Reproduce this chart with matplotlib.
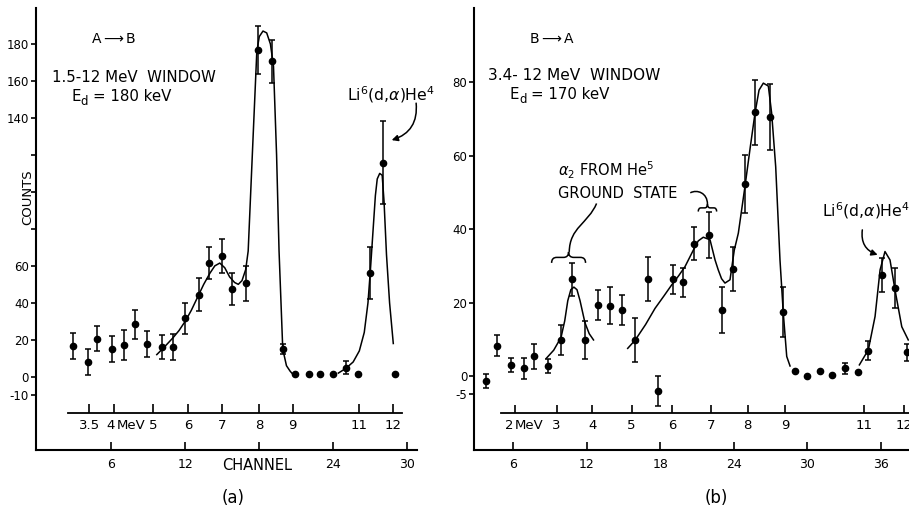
import numpy as np
import matplotlib
matplotlib.use('Agg')
import matplotlib.pyplot as plt
from matplotlib.path import Path
from matplotlib.patches import PathPatch

plt.rcParams['font.family'] = ['DejaVu Sans']
plt.rcParams['mathtext.fontset'] = 'dejavusans'

# ---------------- panel (a) data: A -> B ----------------
ch_a = [2.9, 4.1, 4.85, 6.05, 7.05, 7.95, 8.9, 10.1, 11.05, 12.0, 13.1, 13.95, 14.95,
        15.75, 16.9, 17.92, 19.0, 19.9, 20.9, 22.05, 22.95, 23.95, 25.0, 26.0, 26.95, 28.0, 29.0]
counts_a = [16.8, 7.8, 20.7, 14.8, 17.1, 28.3, 17.7, 16.2, 16.2, 31.7, 44.5, 61.6, 65.4,
            47.4, 50.5, 176.6, 170.6, 15.0, 1.3, 1.3, 1.3, 1.3, 5.0, 1.3, 56.2, 115.7, 1.3]
err_a = [7, 7, 6.5, 7, 8, 8, 7, 6.5, 7, 8.4, 9, 8.5, 9,
         8.5, 9.5, 13, 11.5, 2.5, 0, 0, 0, 0, 3.5, 0, 14, 22.5, 0]

# hand-drawn fit curves (a)
fit_a1_x = [9.7, 10.3, 11.0, 11.5, 12.0, 12.5, 13.0, 13.5, 14.0, 14.4, 14.8, 15.2, 15.6, 16.0,
            16.3, 16.6, 16.9, 17.1, 17.5, 17.8, 18.0, 18.3, 18.6, 18.9, 19.15, 19.4, 19.6, 19.9,
            20.2, 20.5, 20.7]
fit_a1_y = [12, 16, 21, 25, 30, 36, 43, 50, 56, 60, 61.5, 59, 54, 51,
            50, 52, 58, 68, 130, 176, 184, 187, 186, 180, 168, 120, 68, 15,
            6, 3, 1.5]
fit_a2_x = [24.4, 25.0, 25.6, 26.1, 26.5, 26.8, 27.0, 27.2, 27.4, 27.55, 27.75, 27.95, 28.1,
            28.3, 28.55, 28.85]
fit_a2_y = [2, 4.5, 8, 14, 24, 40, 58, 78, 98, 107, 110, 109, 95, 66, 40, 18]

# energy scale (a)
e_pos_a = [4.23, 6.26, 9.37, 12.25, 14.96, 18.0, 20.7, 26.1, 28.8]
e_lab_a = ['3.5', '4', '5', '6', '7', '8', '9', '11', '12']

# ---------------- panel (b) data: B -> A ----------------
ch_b = [3.75, 4.67, 5.8, 6.9, 7.7, 8.86, 9.9, 10.77, 11.88, 12.94, 13.92, 14.9, 15.96, 16.97,
        17.84, 19.0, 19.85, 20.78, 21.97, 23.0, 23.96, 24.9, 25.7, 26.96, 28.04, 29.0, 30.0,
        31.04, 32.0, 33.08, 34.17, 34.98, 36.07, 37.16, 38.1]
counts_b = [-1.4, 8.2, 3.0, 2.1, 5.3, 2.7, 9.8, 26.3, 9.8, 19.3, 19.1, 18.0, 9.8, 26.3,
            -4.1, 26.3, 25.5, 36.0, 38.4, 18.0, 29.2, 52.3, 71.8, 70.7, 17.4, 1.2, 0.1,
            1.3, 0.2, 2.1, 1.1, 6.9, 27.5, 23.9, 6.4]
err_b = [2, 2.9, 2, 2.9, 3.3, 1.9, 4.2, 4.4, 5.2, 4, 5, 4, 6, 6,
         4, 4, 4, 4.5, 6.4, 6.3, 6, 8, 8.8, 9, 6.7, 0, 0,
         0, 0, 1.5, 0, 2.5, 4.5, 5.5, 2.3]

fit_b1_x = [8.7, 9.3, 9.9, 10.2, 10.45, 10.7, 10.95, 11.2, 11.45, 11.85, 12.2, 12.55]
fit_b1_y = [4.8, 7, 10.5, 15, 20.5, 23.5, 24.2, 23.5, 20.5, 14.5, 11.5, 9.8]
fit_b2_x = [15.34, 15.96, 16.8, 17.57, 18.3, 18.93, 19.5, 20.02, 20.7, 21.1, 21.51, 22.06,
            22.47, 22.73, 23.0, 23.28, 23.69, 24.04, 24.37, 24.91, 25.35, 25.73, 26.06, 26.41,
            26.82, 27.09, 27.42, 27.77, 28.04, 28.32, 28.59]
fit_b2_y = [7.5, 9.8, 14.0, 18.4, 21.8, 24.8, 27.3, 29.8, 34.3, 36.8, 37.8, 37.1,
            31.6, 28.9, 26.5, 25.3, 26.2, 34.3, 38.9, 51.6, 62.5, 71.6, 77.9, 79.8,
            79.0, 71.6, 57.0, 31.6, 17.1, 5.3, 2.7]
fit_b3_x = [34.25, 34.98, 35.53, 35.94, 36.34, 36.75, 37.16, 37.71, 38.24]
fit_b3_y = [3.0, 7.1, 16.2, 28.9, 33.9, 31.6, 23.4, 13.4, 9.8]

e_pos_b = [6.14, 9.54, 12.45, 15.66, 18.98, 22.14, 25.13, 28.18, 34.6, 37.9]
e_lab_b = ['2', '3', '4', '5', '6', '7', '8', '9', '11', '12']

# ---------------- figure ----------------
W, H = 909, 513
fig = plt.figure(figsize=(W / 100, H / 100), dpi=100)
axa = fig.add_axes([36 / W, 1 - 450 / H, (417 - 36) / W, (450 - 8.3) / H])
axb = fig.add_axes([474.3 / W, 1 - 450 / H, (W - 474.3) / W, (450 - 8.3) / H])

LW = 1.1


def style(ax):
    for s in ['top', 'right']:
        ax.spines[s].set_visible(False)
    for s in ['left', 'bottom']:
        ax.spines[s].set_linewidth(1.5)
    ax.tick_params(axis='y', direction='out', length=3.5, width=1.2, pad=1.5, labelsize=8.5)
    ax.tick_params(axis='x', direction='in', length=6, width=1.2, pad=5.5, labelsize=9)


def draw_points(ax, x, y, e):
    x = np.asarray(x); y = np.asarray(y); e = np.asarray(e, dtype=float)
    m = e > 0
    ax.errorbar(x[m], y[m], yerr=e[m], fmt='none', ecolor='black', elinewidth=LW,
                capsize=2.4, capthick=LW)
    ax.plot(x, y, 'o', color='black', ms=4.5)


def energy_axis(ax, yline, x0, x1, th, ylab, pos, labs, mev_index, num_off, mev_off):
    ax.plot([x0, x1], [yline, yline], color='black', lw=1.3, clip_on=False)
    ax.vlines(pos, yline, yline + th, color='black', lw=1.2)
    for i, (p, l) in enumerate(zip(pos, labs)):
        if i == mev_index:
            ax.annotate(l, xy=(p, ylab), xytext=(num_off, 0), textcoords='offset points',
                        ha='center', va='center', fontsize=9.5)
        else:
            ax.text(p, ylab, l, ha='center', va='center', fontsize=9.5)
    p = pos[mev_index]
    ax.annotate('MeV', xy=(p, ylab), xytext=(mev_off, 0), textcoords='offset points',
                ha='left', va='center', fontsize=9.5)


def brace(ax, x0, x1, y, h):
    xm = 0.5 * (x0 + x1)
    w = x1 - x0
    verts = [(x0, y), (x0, y + h / 2), (x0 + 0.15 * w, y + h / 2),
             (xm - 0.15 * w, y + h / 2), (xm, y + h / 2), (xm, y + h),
             (xm, y + h), (xm, y + h / 2), (xm + 0.15 * w, y + h / 2),
             (x1 - 0.15 * w, y + h / 2), (x1, y + h / 2), (x1, y)]
    codes = [Path.MOVETO, Path.CURVE3, Path.CURVE3, Path.LINETO, Path.CURVE3, Path.CURVE3,
             Path.MOVETO, Path.CURVE3, Path.CURVE3, Path.LINETO, Path.CURVE3, Path.CURVE3]
    ax.add_patch(PathPatch(Path(verts, codes), fc='none', ec='black', lw=LW, clip_on=False))


def bezier(ax, pts):
    codes = [Path.MOVETO, Path.CURVE4, Path.CURVE4, Path.CURVE4]
    ax.add_patch(PathPatch(Path(pts, codes), fc='none', ec='black', lw=LW, clip_on=False))


# ---- panel (a) ----
style(axa)
axa.set_xlim(-0.08, 30.77)
axa.set_ylim(-39.6, 199.3)
axa.set_yticks([-10, 0, 20, 40, 60, 80, 100, 120, 140, 160, 180])
axa.set_yticklabels(['-10', '0', '20', '40', '60', '', '', '', '140', '160', '180'])
axa.set_xticks([6, 12, 18, 24, 30])
axa.set_xticklabels(['6', '12', '', '24', '30'])
axa.plot(fit_a1_x, fit_a1_y, color='black', lw=LW)
axa.plot(fit_a2_x, fit_a2_y, color='black', lw=LW)
draw_points(axa, ch_a, counts_a, err_a)
energy_axis(axa, -19.5, 2.5, 29.55, 4.7, -26.1, e_pos_a, e_lab_a, 1, -2.5, 1.5)

axa.text(6.2, 182.5, r'A$\longrightarrow$B', ha='center', va='center', fontsize=10)
axa.text(1.2, 159.2, '1.5-12 MeV  WINDOW', ha='left', va='baseline', fontsize=10.8)
axa.text(2.8, 149.4, 'E', ha='left', va='baseline', fontsize=10.8)
axa.text(3.55, 147.0, 'd', ha='left', va='baseline', fontsize=8.5)
axa.text(4.55, 149.4, '= 180 keV', ha='left', va='baseline', fontsize=10.8)
axa.text(25.1, 149.6, r'Li$^6$(d,$\alpha$)He$^4$', ha='left', va='baseline', fontsize=11.3)
axa.annotate('', xy=(28.72, 128), xytext=(30.7, 148),
             arrowprops=dict(arrowstyle='-|>', color='black', lw=LW, mutation_scale=9,
                             connectionstyle='arc3,rad=-0.4', shrinkA=0, shrinkB=0))
axa.text(-0.021, 97, 'COUNTS', transform=axa.get_yaxis_transform(), rotation=90,
         ha='center', va='center', fontsize=9.5)

# ---- panel (b) ----
style(axb)
axb.set_xlim(2.82, 38.3)
axb.set_ylim(-20.2, 100.2)
axb.set_yticks([-5, 0, 20, 40, 60, 80])
axb.set_yticklabels(['-5', '0', '20', '40', '60', '80'])
axb.set_xticks([6, 12, 18, 24, 30, 36])
axb.set_xticklabels(['6', '12', '18', '24', '30', '36'])
axb.plot(fit_b1_x, fit_b1_y, color='black', lw=LW)
axb.plot(fit_b2_x, fit_b2_y, color='black', lw=LW)
axb.plot(fit_b3_x, fit_b3_y, color='black', lw=LW)
draw_points(axb, ch_b, counts_b, err_b)
energy_axis(axb, -10.2, 5.0, 38.3, 2.4, -13.4, e_pos_b, e_lab_b, 0, -4, 0)

axb.text(9.13, 91.8, r'B$\longrightarrow$A', ha='center', va='center', fontsize=10)
axb.text(3.96, 80.6, '3.4- 12 MeV  WINDOW', ha='left', va='baseline', fontsize=11.1)
axb.text(5.73, 75.6, 'E', ha='left', va='baseline', fontsize=10.8)
axb.text(6.48, 74.4, 'd', ha='left', va='baseline', fontsize=8.5)
axb.text(7.45, 75.6, '= 170 keV', ha='left', va='baseline', fontsize=10.8)
axb.text(9.65, 54.5, r'$\alpha_2$ FROM He$^5$', ha='left', va='baseline', fontsize=10.5)
axb.text(9.65, 48.4, 'GROUND  STATE', ha='left', va='baseline', fontsize=10.5)
axb.text(31.2, 43.4, r'Li$^6$(d,$\alpha$)He$^4$', ha='left', va='baseline', fontsize=11.3)
brace(axb, 9.13, 11.9, 30.8, 3.0)
brace(axb, 21.1, 22.6, 44.8, 2.0)
bezier(axb, [(12.8, 47.0), (12.1, 41.5), (10.6, 40.5), (10.57, 33.8)])
bezier(axb, [(20.45, 49.9), (21.0, 50.9), (21.85, 49.9), (21.85, 46.8)])
axb.annotate('', xy=(35.74, 33.0), xytext=(34.49, 39.8),
             arrowprops=dict(arrowstyle='-|>', color='black', lw=LW, mutation_scale=9,
                             connectionstyle='arc3,rad=0.4', shrinkA=0, shrinkB=0))

fig.text(257 / W, 1 - 466 / H, 'CHANNEL', ha='center', va='center', fontsize=10.5)
fig.text(233 / W, 1 - 498 / H, '(a)', ha='center', va='center', fontsize=12)
fig.text(716.7 / W, 1 - 498 / H, '(b)', ha='center', va='center', fontsize=12)

fig.savefig('out.png', dpi=100)
